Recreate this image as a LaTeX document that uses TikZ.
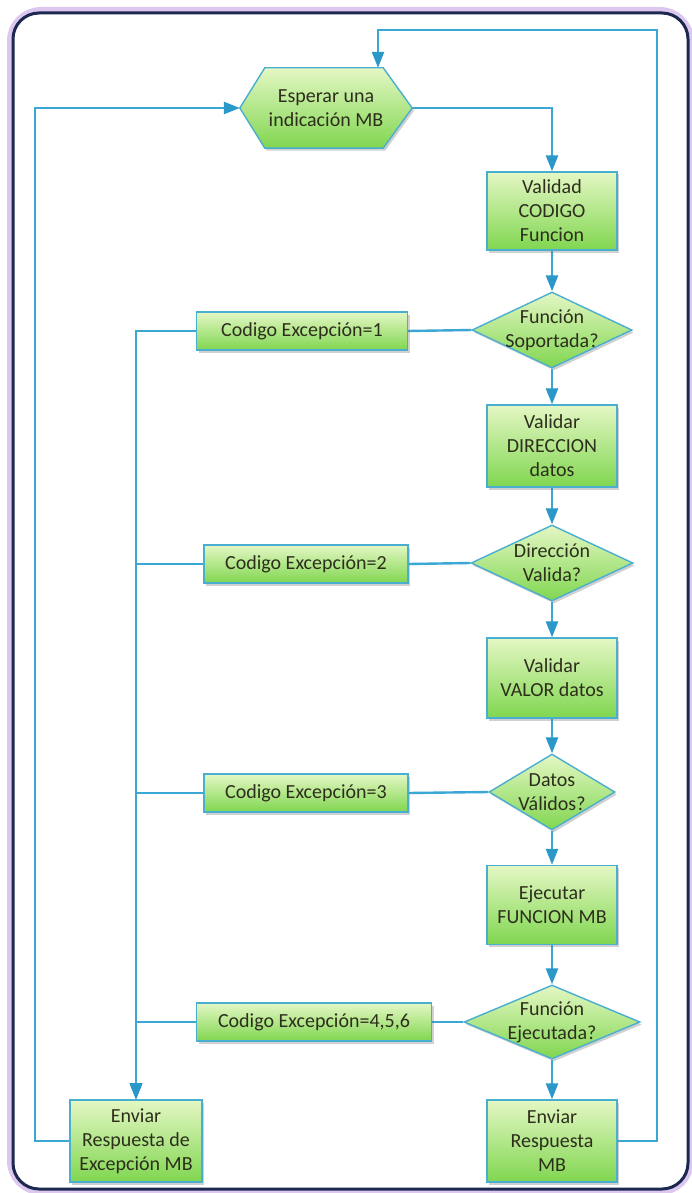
\documentclass[tikz,border=0pt]{standalone}
\usepackage{fontspec}
\setmainfont{Carlito}
\usetikzlibrary{shapes.geometric,shadows,arrows.meta,backgrounds}
\definecolor{linecol}{HTML}{3BA7D4}
\definecolor{tipcol}{HTML}{2A98C8}
\definecolor{edgecol}{HTML}{4AAED0}
\definecolor{greentop}{HTML}{E4F7C4}
\definecolor{greenbot}{HTML}{80D650}
\definecolor{txtcol}{HTML}{2E2E1C}
\definecolor{framecol}{HTML}{1C2850}
\definecolor{glowcol}{HTML}{DCC8EE}
\tikzset{
  greenfill/.style={draw=edgecol, line width=1.4pt, top color=greentop, bottom color=greenbot,
    drop shadow={shadow xshift=2pt, shadow yshift=-2.5pt, opacity=.3, fill=black!60}},
  procbox/.style={greenfill, rectangle, inner sep=0pt, minimum width=130pt,
    align=center, text=txtcol},
  excbox/.style={greenfill, rectangle, inner sep=0pt, minimum height=38pt,
    align=center, text=txtcol},
  decision/.style={greenfill, diamond, inner sep=0pt},
  label text/.style={align=center, text=txtcol, inner sep=0pt},
  flow/.style={draw=linecol, line width=2.4pt, line join=miter},
  flowarrow/.style={flow, -{Triangle[length=16pt,width=12pt,fill=tipcol,color=tipcol]}},
}
\begin{document}
\begin{tikzpicture}[x=1pt, y=-1pt, font=\fontsize{20}{24}\selectfont]
\useasboundingbox (0,0) rectangle (692,1193);

% start hexagon
\node[minimum width=172pt, minimum height=80pt, inner sep=0pt] (hx) at (326,108) {};
\path[greenfill] (hx.west) -- ([xshift=25pt]hx.north west) -- ([xshift=-29pt]hx.north east)
  -- (hx.east) -- ([xshift=-29pt]hx.south east) -- ([xshift=25pt]hx.south west) -- cycle;
\node[label text] (hxt) at (hx) {Esperar una\\indicación MB};

% main column
\node[procbox, minimum height=78pt] (b1) at (552,211) {Validad\\CODIGO\\Funcion};
\node[decision, minimum width=160pt, minimum height=76pt] (d1) at (552,330) {};
\node[label text] (d1t) at (d1) {Función\\Soportada?};
\node[procbox, minimum height=82pt] (b2) at (552,446) {Validar\\DIRECCION\\datos};
\node[decision, minimum width=162pt, minimum height=76pt] (d2) at (552,563) {};
\node[label text] (d2t) at (d2) {Dirección\\Valida?};
\node[procbox, minimum height=80pt] (b3) at (552,678) {Validar\\VALOR datos};
\node[decision, minimum width=126pt, minimum height=76pt] (d3) at (552,792) {};
\node[label text] (d3t) at (d3) {Datos\\Válidos?};
\node[procbox, minimum height=79pt] (b4) at (552,905) {Ejecutar\\FUNCION MB};
\node[decision, minimum width=176pt, minimum height=74pt] (d4) at (552,1022) {};
\node[label text] (d4t) at (d4) {Función\\Ejecutada?};
\node[procbox, minimum height=82pt] (b5) at (552,1141) {Enviar\\Respuesta\\MB};

% exception codes
\node[excbox, minimum width=211pt] (e1) at (302,331) {Codigo Excepción=1};
\node[excbox, minimum width=204pt] (e2) at (306,564) {Codigo Excepción=2};
\node[excbox, minimum width=204pt] (e3) at (306,793) {Codigo Excepción=3};
\node[excbox, minimum width=235pt] (e4) at (314,1022) {Codigo Excepción=4,5,6};
\node[procbox, minimum width=132pt, minimum height=82pt] (bx) at (136,1141) {Enviar\\Respuesta de\\Excepción MB};

% loop-back routing points
\coordinate (lft) at (35,1141);
\coordinate (rgt) at (657,30);
\coordinate (tin) at (378,30);

\begin{scope}[on background layer]
% outer frame with soft purple glow
\draw[glowcol, line width=12pt, rounded corners=28pt] (13,13) rectangle (688,1189);
\fill[white, rounded corners=26pt] (13,13) rectangle (688,1189);
\draw[framecol, line width=3pt, rounded corners=26pt] (13,13) rectangle (688,1189);

% connectors
\draw[flowarrow] (hx.east) -| (b1.north);
\draw[flowarrow] (b1.south) -- (d1.north);
\draw[flowarrow] (d1.south) -- (b2.north);
\draw[flowarrow] (b2.south) -- (d2.north);
\draw[flowarrow] (d2.south) -- (b3.north);
\draw[flowarrow] (b3.south) -- (d3.north);
\draw[flowarrow] (d3.south) -- (b4.north);
\draw[flowarrow] (b4.south) -- (d4.north);
\draw[flowarrow] (d4.south) -- (b5.north);

\draw[flow] (d1.west) -- (e1.east);
\draw[flow] (d2.west) -- (e2.east);
\draw[flow] (d3.west) -- (e3.east);
\draw[flow] (d4.west) -- (e4.east);

\draw[flowarrow] (e1.west) -| (bx.north);
\draw[flowarrow] (e2.west) -| (bx.north);
\draw[flowarrow] (e3.west) -| (bx.north);
\draw[flowarrow] (e4.west) -| (bx.north);

\draw[flowarrow] (bx.west) -- (lft) |- (hx.west);
\draw[flowarrow] (b5.east) -| (rgt) -- (tin) -- (tin |- hx.north);
\end{scope}
\end{tikzpicture}
\end{document}
